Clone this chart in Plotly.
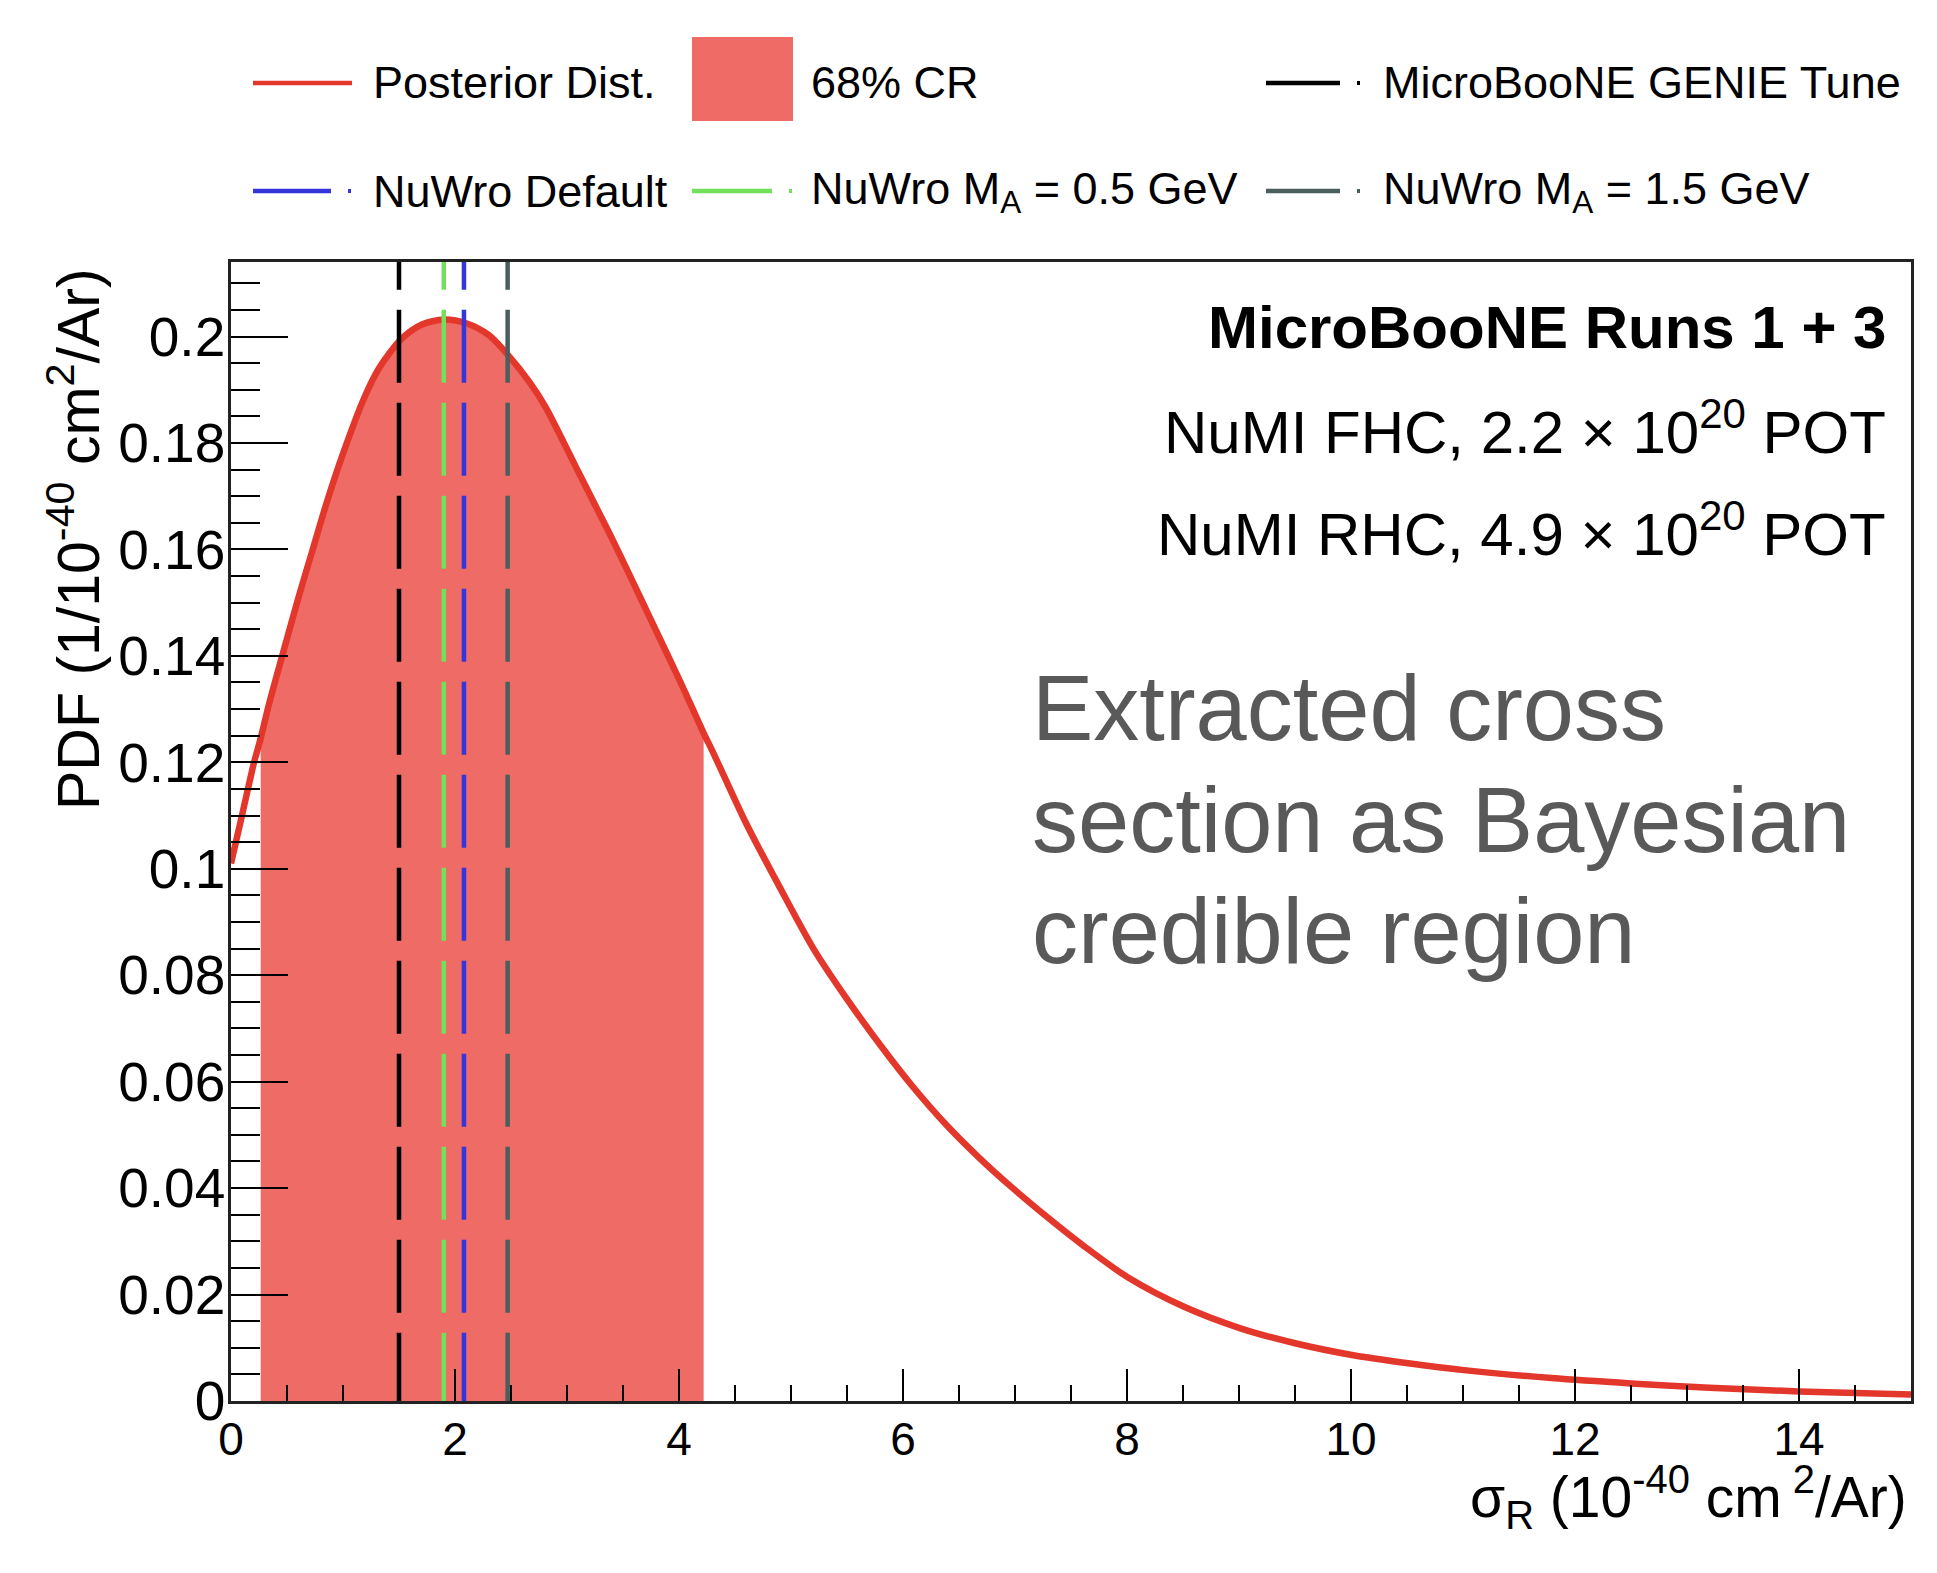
import plotly.graph_objects as go

# ---------------- data ----------------
sigma = [0.0, 0.1, 0.206, 0.265, 0.34, 0.49, 0.61, 0.73, 0.85, 1.0, 1.19, 1.32,
         1.52, 1.7, 1.9, 2.1, 2.3, 2.47, 2.67, 2.81, 3.11, 3.41, 3.71, 4.01,
         4.22, 4.31, 4.6, 4.9, 5.2, 5.5, 5.8, 6.09, 6.39, 6.69, 6.99, 7.32, 7.61,
         8.01, 8.51, 9.02, 9.51, 10.02, 10.51, 11.01, 11.79, 12.5, 13.2, 14.0, 15.0]
pdf = [0.101, 0.1102, 0.120, 0.1245, 0.131, 0.1425, 0.1515, 0.160, 0.1685,
       0.178, 0.1885, 0.194, 0.1995, 0.2022, 0.2032, 0.2025, 0.2003, 0.1966,
       0.1913, 0.1867, 0.1742, 0.1617, 0.1485, 0.1352, 0.1255, 0.1216, 0.1085,
       0.0965, 0.0850, 0.0755, 0.0668, 0.0590, 0.0518, 0.0455, 0.0398, 0.0340,
       0.0292, 0.0232, 0.0177, 0.0136, 0.0108, 0.0086, 0.0071, 0.0058, 0.0043,
       0.0033, 0.0025, 0.0018, 0.0012]

cr_low = 0.265
cr_high = 4.22

model_names = ["MicroBooNE GENIE Tune", "NuWro Default",
               "NuWro M<sub>A</sub> = 0.5 GeV", "NuWro M<sub>A</sub> = 1.5 GeV"]
model_values = [1.50, 2.08, 1.90, 2.47]
model_colors = ["#000000", "#3535dc", "#72e05a", "#4a5e5e"]

x_range = [0, 15]
y_range = [0, 0.214]
line_top = 0.2225   # dashed lines start just above the frame (sets the dash phase)

CURVE = "#e3372c"
FILL = "#ee6b66"
FONT = "Liberation Sans"

# ---------------- figure ----------------
fig = go.Figure()

cr_x = [s for s in sigma if cr_low <= s <= cr_high]
cr_y = [p for s, p in zip(sigma, pdf) if cr_low <= s <= cr_high]
fig.add_trace(go.Scatter(x=cr_x, y=cr_y, mode="lines", fill="tozeroy",
                         fillcolor=FILL, line=dict(width=0, shape="spline", smoothing=0.8),
                         name="68% CR", showlegend=False, hoverinfo="skip"))

fig.add_trace(go.Scatter(x=sigma, y=pdf, mode="lines",
                         line=dict(color=CURVE, width=6.5, shape="spline", smoothing=0.8),
                         name="Posterior Dist.", showlegend=False))

for name, v, c in zip(model_names, model_values, model_colors):
    fig.add_trace(go.Scatter(x=[v, v], y=[line_top, y_range[0]], mode="lines",
                             line=dict(color=c, width=4.5, dash="73px,20px"),
                             name=name, showlegend=False))

# pixel -> paper helpers for layout placement
L, R, T, B = 231, 1911, 262, 1401
def px(x):
    return (x - L) / (R - L)
def py(y):
    return (B - y) / (B - T)

annotations = []
shapes = []

# ----- ROOT-style legend -----
def leg_text(x, y, text):
    annotations.append(dict(x=px(x), y=py(y), xref="paper", yref="paper", text=text,
                            showarrow=False, xanchor="left", yanchor="middle",
                            font=dict(family=FONT, size=45, color="black")))

def leg_line(x0, x1, y, color, dashed):
    shapes.append(dict(type="line", xref="paper", yref="paper", x0=px(x0), x1=px(x1),
                       y0=py(y), y1=py(y), line=dict(color=color, width=4.5)))
    if dashed:
        shapes.append(dict(type="line", xref="paper", yref="paper", x0=px(x1 + 17),
                           x1=px(x1 + 20), y0=py(y), y1=py(y),
                           line=dict(color=color, width=4)))

r1, r2 = 83, 191
leg_line(253, 352, r1, CURVE, False)
leg_text(371, r1, "Posterior Dist.")
shapes.append(dict(type="rect", xref="paper", yref="paper", x0=px(692), x1=px(793),
                   y0=py(121), y1=py(37), fillcolor=FILL, line=dict(width=0)))
leg_text(809, r1, "68% CR")
leg_line(1266, 1340, r1, model_colors[0], True)
leg_text(1381, r1, model_names[0])
leg_line(253, 331, r2, model_colors[1], True)
leg_text(371, r2, model_names[1])
leg_line(692, 772, r2, model_colors[2], True)
leg_text(809, r2, model_names[2])
leg_line(1266, 1340, r2, model_colors[3], True)
leg_text(1381, r2, model_names[3])

# ----- labels inside plot -----
annotations.append(dict(x=px(1888), y=py(328), xref="paper", yref="paper",
                        text="<b>MicroBooNE Runs 1 + 3</b>", showarrow=False,
                        xanchor="right", yanchor="middle",
                        font=dict(family=FONT, size=60, color="black")))
annotations.append(dict(x=px(1888), y=py(428), xref="paper", yref="paper",
                        text="NuMI FHC, 2.2 × 10<sup>20</sup> POT", showarrow=False,
                        xanchor="right", yanchor="middle",
                        font=dict(family=FONT, size=60, color="black")))
annotations.append(dict(x=px(1888), y=py(530), xref="paper", yref="paper",
                        text="NuMI RHC, 4.9 × 10<sup>20</sup> POT", showarrow=False,
                        xanchor="right", yanchor="middle",
                        font=dict(family=FONT, size=60, color="black")))

for txt, yy in zip(["Extracted cross", "section as Bayesian", "credible region"],
                   [708, 820, 931]):
    annotations.append(dict(x=px(1030), y=py(yy), xref="paper", yref="paper",
                            text=txt, showarrow=False, xanchor="left", yanchor="middle",
                            font=dict(family=FONT, size=92, color="#595959")))

# ----- axis titles (ROOT style, right/top aligned) -----
annotations.append(dict(x=px(1909), y=py(1497), xref="paper", yref="paper",
                        text="σ<sub>R</sub> (10<sup>-40</sup> cm<sup> 2</sup>/Ar)",
                        showarrow=False, xanchor="right", yanchor="middle",
                        font=dict(family=FONT, size=57, color="black")))
annotations.append(dict(x=px(74), y=py(266), xref="paper", yref="paper",
                        text="PDF (1/10<sup>-40</sup> cm<sup>2</sup>/Ar)",
                        showarrow=False, xanchor="center", yanchor="top", textangle=-90,
                        font=dict(family=FONT, size=59, color="black")))

fig.update_layout(
    width=1937, height=1573,
    margin=dict(l=L, r=1937 - R, t=T, b=1573 - B),
    paper_bgcolor="white", plot_bgcolor="white",
    showlegend=False,
    annotations=annotations, shapes=shapes,
    font=dict(family=FONT, color="black"),
)

fig.update_xaxes(range=x_range, showgrid=False, zeroline=False,
                 showline=True, linecolor="#222222", linewidth=2.5, mirror=True,
                 ticks="inside", ticklen=32, tickwidth=2, tickcolor="black",
                 tickmode="linear", tick0=0, dtick=2,
                 tickfont=dict(family=FONT, size=46, color="black"),
                 ticklabelstandoff=-4,
                 minor=dict(ticks="inside", ticklen=16, tickwidth=2,
                            tickcolor="black", dtick=0.5, showgrid=False))
fig.update_yaxes(range=y_range, showgrid=False, zeroline=False,
                 showline=True, linecolor="#222222", linewidth=2.5, mirror=True,
                 ticks="inside", ticklen=57, tickwidth=2, tickcolor="black",
                 tickmode="linear", tick0=0, dtick=0.02,
                 tickfont=dict(family=FONT, size=55, color="black"),
                 ticklabelstandoff=-8,
                 minor=dict(ticks="inside", ticklen=29, tickwidth=2,
                            tickcolor="black", dtick=0.005, showgrid=False))

fig.write_html("out.html")
